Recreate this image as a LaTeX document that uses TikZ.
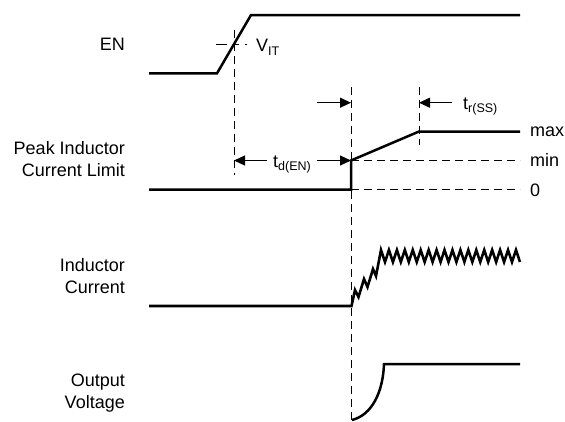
\documentclass[tikz,border=0pt]{standalone}
\usepackage{fontspec}
\setmainfont{Liberation Sans}
\usetikzlibrary{arrows.meta}
\newcommand\mysub[1]{\raisebox{-0.35ex}{\fontsize{12.5}{13}\selectfont #1}}
\begin{document}
\begin{tikzpicture}[x=1pt,y=-1pt,
  sig/.style={line width=2.5pt,line join=miter},
  guide/.style={line width=1pt,dash pattern=on 8pt off 5pt},
  dimarrow/.style={line width=1.1pt,-{Triangle[length=11pt,width=10pt]}},
  lbl/.style={font=\fontsize{18}{22}\selectfont,inner sep=0pt,align=right},
  val/.style={font=\fontsize{18}{22}\selectfont,inner sep=0pt}]
\useasboundingbox (0,0) rectangle (565,421);

% row labels
\node[lbl,anchor=east] (en) at (125,44) {EN};
\node[lbl,anchor=east] (pk) at (125,159.5) {Peak Inductor\\Current Limit};
\node[lbl,anchor=east] (ic) at (125,276.5) {Inductor\\Current};
\node[lbl,anchor=east] (ov) at (125,393.5) {Output\\Voltage};

% level labels
\node[val,anchor=base west] (max) at (530,136.5) {max};
\node[val,anchor=base west] (min) at (530,166.5) {min};
\node[val,anchor=base west] (zero) at (530,196) {0};

% coordinates
\coordinate (enA) at (149,73.3);
\coordinate (enB) at (217,73.3);
\coordinate (enC) at (251,15);
\coordinate (enD) at (520,15);

\coordinate (v1t) at (234,30);
\coordinate (v1b) at (234,175);
\coordinate (v2t) at (351,87);
\coordinate (v2b) at (351,421);
\coordinate (v3t) at (419,87);
\coordinate (v3b) at (419,145);
\coordinate (vitL) at (216,44);
\coordinate (vitR) at (252,44);

\coordinate (p0a) at (149,189.5);
\coordinate (p0b) at (351,189.5);
\coordinate (pmin) at (351,160.5);
\coordinate (pmax) at (419,131.5);
\coordinate (pend) at (520,131.5);
\coordinate (minR) at (520,160.5);
\coordinate (zeroR) at (520,189.5);

% guide lines
\draw[guide] (v1t) -- (v1b);
\draw[guide] (v2t) -- (v2b);
\draw[guide] (v3t) -- (v3b);
\draw[line width=1pt,dash pattern=on 11pt off 6pt on 6pt off 6pt on 1.5pt] (vitL) -- (vitR);
\draw[guide] (pmin) -- (minR);
\draw[guide] (p0b) -- (zeroR);

% EN
\draw[sig] (enA) -- (enB) -- (enC) -- (enD);
\node[val,anchor=base west] (vit) at (256,51.7) {V\mysub{IT}};

% peak current limit
\draw[sig] (p0a) -- (p0b) -- (pmin) -- (pmax) -- (pend);

% timing arrows
\coordinate (a1s) at (317,102.7);
\coordinate (a1e) at (351,102.7);
\coordinate (a2s) at (452,102.7);
\coordinate (a2e) at (419,102.7);
\coordinate (a3s) at (267,160.5);
\coordinate (a3e) at (234,160.5);
\coordinate (a4s) at (317,160.5);
\draw[dimarrow] (a1s) -- (a1e);
\draw[dimarrow] (a2s) -- (a2e);
\draw[dimarrow] (a3s) -- (a3e);
\draw[dimarrow] (a4s) -- (pmin);
\node[val,anchor=base west] (tdl) at (273,167) {t\mysub{d(EN)}};
\node[val,anchor=base west] (trl) at (463,109) {t\mysub{r(SS)}};

% inductor current
\coordinate (iA) at (149,306);
\coordinate (iB) at (351.5,306);
\draw[sig,line width=2.6pt] (iA) -- (iB) -- (355,290) -- (358.5,297) -- (364,279) -- (367.5,287) -- (373,269)
  -- (376,276) -- (381,250)
  \foreach \i in {1,...,35} { -- ({381+\i*3.97},{250+6*(1-cos(180*\i))}) };

% output voltage
\coordinate (oA) at (352,420);
\coordinate (oB) at (384,364);
\coordinate (oC) at (520,364);
\draw[sig] (oA) .. controls (372,415) and (383,392) .. (oB) -- (oC);
\end{tikzpicture}
\end{document}
